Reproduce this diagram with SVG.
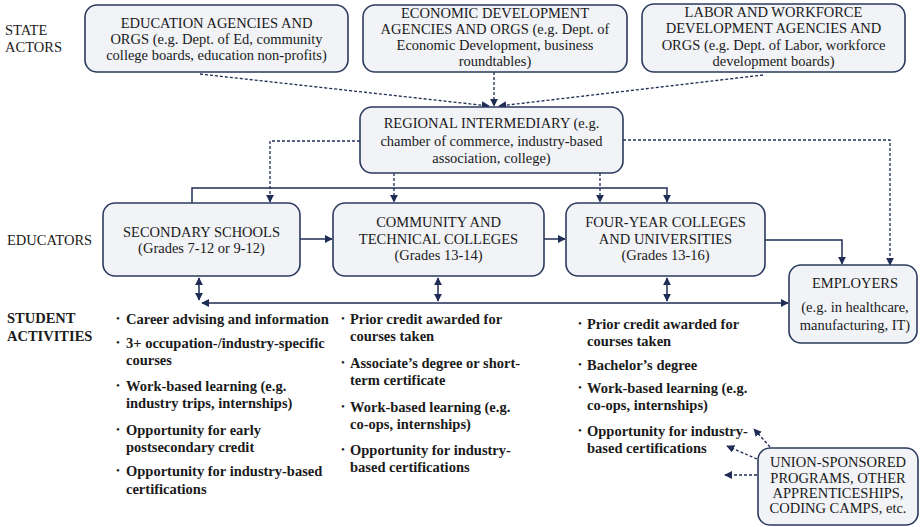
<svg xmlns="http://www.w3.org/2000/svg" width="921" height="527" viewBox="0 0 921 527">
<defs>
<marker id="ah" viewBox="0 0 10 10" refX="9" refY="5" markerWidth="8" markerHeight="8" markerUnits="userSpaceOnUse" orient="auto-start-reverse">
<path d="M0,0 L10,5 L0,10 z" fill="#1f2d55"/>
</marker>
</defs>
<style>
.box{fill:#f1f3f7;stroke:#2b3a5e;stroke-width:1.6}
.t{font-family:"Liberation Serif","Times New Roman",serif;font-size:14.5px;fill:#1a1a1a;text-anchor:middle}
.lbl{font-family:"Liberation Serif","Times New Roman",serif;font-size:14.5px;fill:#1a1a1a}
.b{font-family:"Liberation Serif","Times New Roman",serif;font-size:14.5px;font-weight:bold;fill:#1a1a1a}
.bul{font-family:"Liberation Serif","Times New Roman",serif;font-size:11px;fill:#1a1a1a}
.c{fill:none;stroke:#1f2d55;stroke-width:1.5}
.d{fill:none;stroke:#1f2d55;stroke-width:1.3;stroke-dasharray:3 2}
</style>
<rect width="921" height="527" fill="#ffffff"/>

<g id="row-labels">
<text class="lbl" x="5" y="35">STATE</text>
<text class="lbl" x="5" y="52">ACTORS</text>
<text class="lbl" x="7" y="245">EDUCATORS</text>
<text class="b" x="7" y="323">STUDENT</text>
<text class="b" x="7" y="341">ACTIVITIES</text>
</g>

<g id="connectors">
<path class="d" d="M200,74 L489,106" marker-end="url(#ah)"/>
<path class="d" d="M494,72 L494,106" marker-end="url(#ah)"/>
<path class="d" d="M763,75 L499,106" marker-end="url(#ah)"/>
<path class="d" d="M360,141 L270,141 L270,202" marker-end="url(#ah)"/>
<path class="d" d="M394,173 L394,202" marker-end="url(#ah)"/>
<path class="d" d="M600,173 L600,202" marker-end="url(#ah)"/>
<path class="d" d="M623,140 L890,140 L890,265" marker-end="url(#ah)"/>
<path class="c" d="M192,203 L192,188 L667,188 L667,202" marker-end="url(#ah)"/>
<path class="c" d="M300,239 L332,239" marker-end="url(#ah)"/>
<path class="c" d="M544,239 L565,239" marker-end="url(#ah)"/>
<path class="c" d="M765,240 L842,240 L842,264" marker-end="url(#ah)"/>
<path class="c" d="M199,278 L199,300" marker-start="url(#ah)" marker-end="url(#ah)"/>
<path class="c" d="M438,278 L438,301" marker-start="url(#ah)" marker-end="url(#ah)"/>
<path class="c" d="M667,278 L667,301" marker-start="url(#ah)" marker-end="url(#ah)"/>
<path class="c" d="M202,303 L788,303" marker-start="url(#ah)" marker-end="url(#ah)"/>
<path class="d" d="M770,447 L754,429" marker-end="url(#ah)"/>
<path class="d" d="M757,459 L727,446" marker-end="url(#ah)"/>
<path class="d" d="M757,475 L725,475" marker-end="url(#ah)"/>
</g>

<g id="education">
<rect class="box" x="85" y="5" width="263" height="67" rx="12"/>
<text class="t" x="216.5" y="28">EDUCATION AGENCIES AND</text>
<text class="t" x="216.5" y="44">ORGS (e.g. Dept. of Ed, community</text>
<text class="t" x="216.5" y="60">college boards, education non-profits)</text>
</g>

<g id="economic">
<rect class="box" x="363" y="5" width="264" height="67" rx="12"/>
<text class="t" x="495" y="18">ECONOMIC DEVELOPMENT</text>
<text class="t" x="495" y="34">AGENCIES AND ORGS (e.g. Dept. of</text>
<text class="t" x="495" y="50">Economic Development, business</text>
<text class="t" x="495" y="66">roundtables)</text>
</g>

<g id="labor">
<rect class="box" x="642" y="4" width="263" height="68" rx="12"/>
<text class="t" x="773.5" y="17">LABOR AND WORKFORCE</text>
<text class="t" x="773.5" y="33">DEVELOPMENT AGENCIES AND</text>
<text class="t" x="773.5" y="50">ORGS (e.g. Dept. of Labor, workforce</text>
<text class="t" x="773.5" y="66">development boards)</text>
</g>

<g id="regional">
<rect class="box" x="360" y="107" width="263" height="66" rx="12"/>
<text class="t" x="491.5" y="128">REGIONAL INTERMEDIARY (e.g.</text>
<text class="t" x="491.5" y="146">chamber of commerce, industry-based</text>
<text class="t" x="491.5" y="163">association, college)</text>
</g>

<g id="secondary">
<rect class="box" x="103" y="203" width="197" height="73" rx="12"/>
<text class="t" x="201.5" y="237">SECONDARY SCHOOLS</text>
<text class="t" x="201.5" y="253">(Grades 7-12 or 9-12)</text>
</g>

<g id="community">
<rect class="box" x="333" y="203" width="211" height="73" rx="12"/>
<text class="t" x="438.5" y="227">COMMUNITY AND</text>
<text class="t" x="438.5" y="244">TECHNICAL COLLEGES</text>
<text class="t" x="438.5" y="260">(Grades 13-14)</text>
</g>

<g id="fouryear">
<rect class="box" x="566" y="203" width="199" height="73" rx="12"/>
<text class="t" x="665.5" y="227">FOUR-YEAR COLLEGES</text>
<text class="t" x="665.5" y="244">AND UNIVERSITIES</text>
<text class="t" x="665.5" y="260">(Grades 13-16)</text>
</g>

<g id="employers">
<rect class="box" x="789" y="265" width="128" height="78" rx="12"/>
<text class="t" x="855" y="288">EMPLOYERS</text>
<text class="t" x="855" y="312">(e.g. in healthcare,</text>
<text class="t" x="855" y="330">manufacturing, IT)</text>
</g>

<g id="union">
<rect class="box" x="758" y="448" width="160" height="77" rx="12"/>
<text class="t" x="838" y="467">UNION-SPONSORED</text>
<text class="t" x="838" y="483">PROGRAMS, OTHER</text>
<text class="t" x="838" y="498">APPRENTICESHIPS,</text>
<text class="t" x="838" y="513">CODING CAMPS, etc.</text>
</g>

<g id="activities-secondary">
<text class="bul" x="116" y="322">•</text><text class="b" x="126" y="324">Career advising and information</text>
<text class="bul" x="116" y="346">•</text><text class="b" x="126" y="348">3+ occupation-/industry-specific</text>
<text class="b" x="126" y="365">courses</text>
<text class="bul" x="116" y="389">•</text><text class="b" x="126" y="391">Work-based learning (e.g.</text>
<text class="b" x="126" y="408">industry trips, internships)</text>
<text class="bul" x="116" y="433">•</text><text class="b" x="126" y="435">Opportunity for early</text>
<text class="b" x="126" y="452">postsecondary credit</text>
<text class="bul" x="116" y="474">•</text><text class="b" x="126" y="476">Opportunity for industry-based</text>
<text class="b" x="126" y="494">certifications</text>
</g>

<g id="activities-community">
<text class="bul" x="341" y="322">•</text><text class="b" x="350" y="324">Prior credit awarded for</text>
<text class="b" x="350" y="341">courses taken</text>
<text class="bul" x="341" y="366">•</text><text class="b" x="350" y="368">Associate’s degree or short-</text>
<text class="b" x="350" y="385">term certificate</text>
<text class="bul" x="341" y="410">•</text><text class="b" x="350" y="412">Work-based learning (e.g.</text>
<text class="b" x="350" y="429">co-ops, internships)</text>
<text class="bul" x="341" y="453">•</text><text class="b" x="350" y="455">Opportunity for industry-</text>
<text class="b" x="350" y="472">based certifications</text>
</g>

<g id="activities-fouryear">
<text class="bul" x="578" y="327">•</text><text class="b" x="587" y="329">Prior credit awarded for</text>
<text class="b" x="587" y="346">courses taken</text>
<text class="bul" x="578" y="368">•</text><text class="b" x="587" y="370">Bachelor’s degree</text>
<text class="bul" x="578" y="391">•</text><text class="b" x="587" y="393">Work-based learning (e.g.</text>
<text class="b" x="587" y="410">co-ops, internships)</text>
<text class="bul" x="578" y="434">•</text><text class="b" x="587" y="436">Opportunity for industry-</text>
<text class="b" x="587" y="453">based certifications</text>
</g>
</svg>
